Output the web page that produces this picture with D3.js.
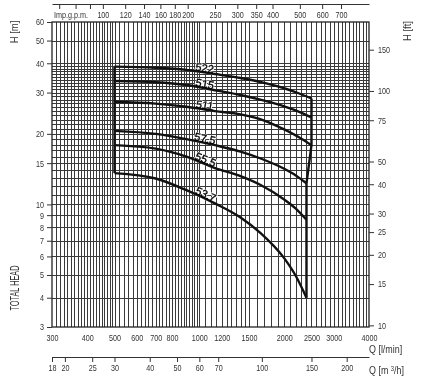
<!DOCTYPE html>
<html><head><meta charset="utf-8">
<script src="https://cdn.jsdelivr.net/npm/d3@7"></script>
<style>
html,body{margin:0;padding:0;background:#fff;}
svg{display:block;filter:grayscale(1);}
text{font-family:"Liberation Sans",Arial,sans-serif;-webkit-font-smoothing:antialiased;}
</style></head><body>
<svg id="chart" width="430" height="379"></svg>
<script>
// ---- data ----
const flowTicks = [300,400,500,600,700,800,1000,1200,1500,2000,2500,3000,4000];
const headTicks = [3,4,5,6,7,8,9,10,15,20,30,40,50,60];
const feetTicks = [10,15,20,25,30,40,50,75,100,150];
const gpmTicks = [70,80,90,100,120,140,160,180,200,250,300,350,400,500,600,700];
const gpmLabels = [100,120,140,160,180,200,250,300,350,400,500,600,700];
const m3hTicks = [18,20,25,30,40,50,60,70,100,150,200];

const curveNames = ["522","515","511","57.5","55.5","53.7"];
const upperFlow = [500,700,900,1136,1400,1700,2000,2250,2500];
const lowerFlow = [500,700,900,1136,1400,1650,2000,2200,2400];
const head522  = [38.7,38.3,37.5,36.0,34.6,33.0,31.3,29.8,28.3];
const head515  = [33.6,33.2,32.3,30.7,29.3,27.7,26.2,24.9,23.5];
const head511  = [27.4,26.9,26.1,25.0,24.2,22.8,20.9,19.4,17.9];
const head575  = [20.6,20.0,19.0,17.9,16.8,15.7,14.2,13.3,12.3];
const head555  = [17.9,17.3,16.0,14.3,13.2,12.1,10.5,9.6,8.6];
const head537  = [13.6,12.9,11.5,10.1,8.8,7.55,5.9,4.95,4.0];
const labelFlow = 1040;

// ---- layout ----
const svg = d3.select("#chart");
const L = 52, R = 369, T = 22, B = 327;
const SX = 0.8; // horizontal condensing of tick labels
const x = d3.scaleLog().domain([300,4000]).range([L,R]);
const y = d3.scaleLog().domain([3,60]).range([B,T]);
const M2FT = 3.28084, IGAL = 4.54609;
const yFt = d3.scaleLog().domain([3*M2FT,60*M2FT]).range([B,T]);
const xG = d3.scaleLog().domain([300/IGAL,4000/IGAL]).range([L,R]);
const xM = d3.scaleLog().domain([18,240]).range([L,R]);

// grid
const gridX = [].concat(d3.range(310,500,10), d3.range(500,1000,20), d3.range(1000,1500,50), d3.range(1500,4000,100));
const gridY = [].concat(d3.range(4,10,1), d3.range(10,40,1), [40,50]);
const g = svg.append("g").attr("stroke","#3a3a3a").attr("stroke-width",1).attr("shape-rendering","crispEdges");
g.selectAll(".vx").data(gridX).join("line")
  .attr("x1",d=>Math.round(x(d))+0.5).attr("x2",d=>Math.round(x(d))+0.5).attr("y1",T).attr("y2",B);
g.selectAll(".hy").data(gridY).join("line")
  .attr("y1",d=>Math.round(y(d))+0.5).attr("y2",d=>Math.round(y(d))+0.5).attr("x1",L).attr("x2",R);
svg.append("rect").attr("x",L).attr("y",T).attr("width",R-L).attr("height",B-T)
  .attr("fill","none").attr("stroke","#222").attr("stroke-width",1.3);

// axes
function styleAxis(sel, fs, side){
  sel.selectAll("text").attr("font-size",fs).style("fill","#333")
     .attr("transform",`scale(${SX},1)`);
  if(side){ sel.selectAll("text").attr("x",function(){ return +d3.select(this).attr("x")/SX; }); }
  sel.selectAll("line").attr("stroke","#333");
  sel.selectAll("path").attr("stroke","#333");
}
const fmt = d3.format("d");
svg.append("g").attr("transform",`translate(${L},0)`)
  .call(d3.axisLeft(y).tickValues(headTicks).tickFormat(fmt).tickSize(5).tickPadding(3))
  .call(s=>s.select(".domain").remove()).call(s=>styleAxis(s,9,true));
svg.append("g").attr("transform",`translate(${R},0)`)
  .call(d3.axisRight(yFt).tickValues(feetTicks).tickFormat(fmt).tickSize(5).tickPadding(4))
  .call(s=>s.select(".domain").remove()).call(s=>styleAxis(s,9,true));
svg.append("g").attr("transform",`translate(0,${B})`)
  .call(d3.axisBottom(x).tickValues(flowTicks).tickFormat(fmt).tickSize(0).tickPadding(8))
  .call(s=>s.select(".domain").remove()).call(s=>styleAxis(s,9,false));
svg.append("g").attr("transform",`translate(0,4)`)
  .call(d3.axisBottom(xG).tickValues(gpmTicks).tickFormat(d=>gpmLabels.includes(d)?fmt(d):"").tickSize(5).tickPadding(3).tickSizeOuter(0))
  .call(s=>styleAxis(s,9,false));
svg.append("g").attr("transform",`translate(0,357)`)
  .call(d3.axisBottom(xM).tickValues(m3hTicks).tickFormat(fmt).tickSize(5).tickPadding(3).tickSizeOuter(0))
  .call(s=>styleAxis(s,9,false));

// axis titles
function title(t, tr, fs, anchor){
  return svg.append("text").attr("transform",tr).attr("font-size",fs)
    .attr("text-anchor",anchor||"start").style("fill","#333").text(t);
}
title("Imp.g.p.m.", `translate(${L+2},18) scale(${SX},1)`, 9);
title("Q [l/min]", `translate(369,353) scale(0.85,1)`, 10.5);
const qm = svg.append("text").attr("transform",`translate(369,374) scale(0.85,1)`).attr("font-size",10.5).style("fill","#333");
qm.append("tspan").text("Q [m ");
qm.append("tspan").attr("font-size",7).attr("dy",-3.5).text("3");
qm.append("tspan").attr("dy",3.5).text("/h]");
title("H [m]", "translate(18,32) rotate(-90) scale(0.9,1)", 10.5, "middle");
svg.append("text").attr("transform","translate(19,288) rotate(-90)").attr("text-anchor","middle").attr("font-size",12)
  .attr("textLength",45).attr("lengthAdjust","spacingAndGlyphs").style("fill","#333").text("TOTAL HEAD");
title("H [ft]", "translate(411,31) rotate(-90) scale(0.9,1)", 10.5, "middle");

// curves
const heads = [head522,head515,head511,head575,head555,head537];
const flows = [upperFlow,upperFlow,upperFlow,lowerFlow,lowerFlow,lowerFlow];
const curves = curveNames.map((n,i)=>({name:n, pts: flows[i].map((q,j)=>({q, h:heads[i][j]}))}));
const line = d3.line().x(d=>x(d.q)).y(d=>y(d.h)).curve(d3.curveMonotoneX);
const straight = d3.line().x(d=>x(d.q)).y(d=>y(d.h));

function labelPos(pts){
  for(let j=0;j<pts.length-1;j++){
    if(pts[j].q<=labelFlow && pts[j+1].q>=labelFlow){
      const x0=x(pts[j].q), x1=x(pts[j+1].q), y0=y(pts[j].h), y1=y(pts[j+1].h);
      const t=(x(labelFlow)-x0)/(x1-x0);
      return {px:x0+t*(x1-x0), py:y0+t*(y1-y0), ang:Math.atan2(y1-y0,x1-x0)*180/Math.PI};
    }
  }
}
const lab = curves.map(c=>({name:c.name, ...labelPos(c.pts)}));
svg.append("g").selectAll("text").data(lab).join("text")
  .attr("transform",d=>`translate(${d.px},${d.py}) rotate(${d.ang})`)
  .attr("text-anchor","middle").attr("font-size",11)
  .style("fill","#fff").style("stroke","#fff").style("stroke-width",2).text(d=>d.name);

const cg = svg.append("g").attr("fill","none").attr("stroke","#111").attr("stroke-width",2.4).attr("stroke-linejoin","round");
cg.selectAll("path.c").data(curves).join("path").attr("d",d=>line(d.pts));
cg.append("path").attr("d",straight(curves.map(c=>c.pts[0])));
cg.append("path").attr("d",straight(curves.map(c=>c.pts[c.pts.length-1])));

svg.append("g").selectAll("text").data(lab).join("text")
  .attr("transform",d=>`translate(${d.px},${d.py-0.5}) rotate(${d.ang})`)
  .attr("text-anchor","middle").attr("font-size",11)
  .style("fill","#000").style("stroke","#000").style("stroke-width",0.35).text(d=>d.name);
</script>
</body></html>
